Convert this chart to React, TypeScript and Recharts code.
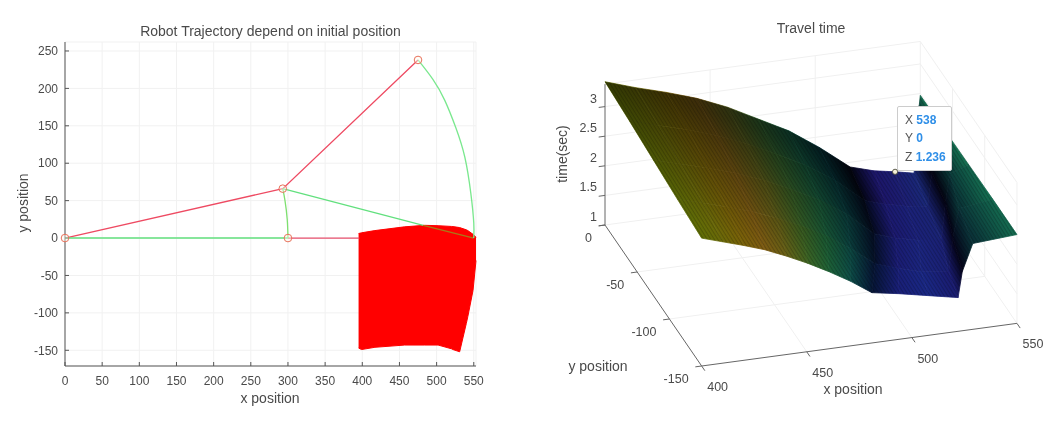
import React from 'react'
import { ComposedChart, Area, Line, Scatter, XAxis, YAxis, CartesianGrid } from 'recharts'

// left panel: robot arm poses and trajectory
const armOut = [{ x: 0, y: 0 }, { x: 293, y: 66 }, { x: 475, y: 238 }]
const armHome = [{ x: 300, y: 0 }, { x: 396, y: 0 }]
const armFlat = [{ x: 0, y: 0 }, { x: 300, y: 0 }]
const elbowArc = [{ x: 300, y: 0 }, { x: 299, y: 25 }, { x: 296, y: 50 }, { x: 293, y: 66 }]
const armReach = [{ x: 293, y: 66 }, { x: 482, y: 17 }]
const armReachOver = [{ x: 482, y: 17 }, { x: 550, y: 0 }]
const wristArc = [
  { x: 475, y: 238 }, { x: 495, y: 212 }, { x: 511, y: 184 }, { x: 526, y: 147 },
  { x: 538, y: 108 }, { x: 546, y: 60 }, { x: 550, y: 20 }, { x: 550, y: 0 },
]
const joints = [{ x: 0, y: 0 }, { x: 293, y: 66 }, { x: 475, y: 238 }, { x: 300, y: 0 }]
const workX = [395, 399, 417, 457, 484, 502, 520, 522, 531, 540, 542, 549, 553]
const workLow = [-147, -149, -146, -143, -143, -143, -148, -149, -152, -114, -105, -70, -30]
const workHigh = [6, 7, 10, 15, 17, 16.5, 15.5, 15.3, 14, 11, 10, 5, 1]
const leftXTicks = [0, 50, 100, 150, 200, 250, 300, 350, 400, 450, 500, 550]
const leftYTicks = [-150, -100, -50, 0, 50, 100, 150, 200, 250]

// right panel: travel time surface, one row per y position
const surfaceY = [0, -37.5, -75, -112.5, -150]
const surfaceX = [
  [400, 414.6, 429.2, 443.7, 458.3, 472.9, 487.5, 502, 516.6, 528, 538, 547, 549, 549.5, 550],
  [400, 414, 428, 442, 456, 470, 484, 498, 512, 522, 532, 542, 544, 546, 550],
  [400, 413, 426, 439, 452.5, 465.6, 478.8, 491.9, 505, 515, 526, 537, 539, 541, 550],
  [400, 412, 423.5, 435, 447, 458.8, 470.5, 482.3, 494, 505, 516, 529, 531, 534, 550],
  [400, 410, 420, 430, 440.5, 450.6, 460.7, 470.9, 481, 494, 508, 522, 524, 529, 550],
]
const surfaceTime = [
  [3.42, 3.25, 3.1, 2.93, 2.71, 2.44, 2.17, 1.82, 1.42, 1.3, 1.236, 1.17, 1.7, 2.3, 2.47],
  [3.36, 3.21, 3.07, 2.9, 2.7, 2.46, 2.2, 1.88, 1.47, 1.36, 1.28, 1.22, 1.8, 2.35, 2.48],
  [3.29, 3.16, 3.03, 2.88, 2.7, 2.48, 2.24, 1.94, 1.54, 1.42, 1.33, 1.28, 1.9, 2.38, 2.49],
  [3.22, 3.1, 2.98, 2.85, 2.68, 2.49, 2.27, 2.0, 1.68, 1.55, 1.44, 1.38, 1.95, 2.42, 2.5],
  [3.16, 3.05, 2.94, 2.82, 2.66, 2.49, 2.3, 2.09, 1.85, 1.77, 1.67, 1.57, 2.0, 2.45, 2.5],
]
// knot colours along the far (y=0) and near (y=-150) edges of the surface
const farColors = [
  '#5f6e06', '#6c6a08', '#7a6208', '#7a5c14', '#5a6420', '#346a34', '#155f48', '#05343c',
  '#02020f', '#1c1468', '#1c1c70', '#1a2a7a', '#02020c', '#0a4038', '#157050',
]
const nearColors = [
  '#5f6e06', '#6c6a08', '#7a6208', '#805c12', '#6a6014', '#3f6420', '#1e6234', '#0e5048',
  '#06183c', '#18207a', '#1a2a88', '#1a1a70', '#04041c', '#0a3038', '#146a50',
]
const darkSheetKnots = 8
const zTicks = [1, 1.5, 2, 2.5, 3]
const xTicks3d = [400, 450, 500, 550]
const yTicks3d = [0, -50, -100, -150]
const zMax = 3.38
const dataTip = { x: 538, y: 0, z: 1.236 }

const font = '"Liberation Sans", Arial, sans-serif'
const inkText = '#4a4a4a'
const offsetU = 530

// MATLAB view of the right axes, orthographic
const project = (x: number, y: number, z: number) => ({
  u: 605 + (x - 400) * 2.102 - y * 0.6443,
  v: 225 - (x - 400) * 0.2843 - y * 0.94 - (z - 1) * 59.2,
})

const seg = (a: number[], b: number[]) => [project(a[0], a[1], a[2]), project(b[0], b[1], b[2])]

type Pt = { u: number; v: number }

// a mesh cell as a range area: upper and lower edge at each corner's u
const cellBand = (corners: Pt[]) => {
  const us = Array.from(new Set(corners.map((c) => c.u))).sort((a, b) => a - b)
  return us.map((u) => {
    const hits: number[] = []
    corners.forEach((c, i) => {
      const d = corners[(i + 1) % corners.length]
      const lo = Math.min(c.u, d.u)
      const hi = Math.max(c.u, d.u)
      if (u < lo || u > hi) return
      if (c.u === d.u) hits.push(c.v, d.v)
      else hits.push(c.v + ((u - c.u) / (d.u - c.u)) * (d.v - c.v))
    })
    return { u, band: [Math.min(...hits), Math.max(...hits)] }
  })
}

const mixColor = (a: string, b: string, t: number) => {
  const ch = (s: string, i: number) => parseInt(s.slice(1 + i * 2, 3 + i * 2), 16)
  const out = [0, 1, 2].map((i) => Math.round(ch(a, i) + (ch(b, i) - ch(a, i)) * t))
  return `rgb(${out.join(',')})`
}

const workArea = workX.map((x, i) => ({ x, band: [workLow[i], workHigh[i]] }))

type Cell = {
  id: string
  knot: number
  data: { u: number; band: number[] }[]
  from: string
  to: string
  x1: number
  y1: number
  x2: number
  y2: number
}

const cells: Cell[] = []
surfaceY.slice(0, -1).forEach((y, r) => {
  const t = (r + 0.5) / (surfaceY.length - 1)
  for (let k = farColors.length - 2; k >= 0; k--) {
    const a = project(surfaceX[r][k], y, surfaceTime[r][k])
    const b = project(surfaceX[r][k + 1], y, surfaceTime[r][k + 1])
    const c = project(surfaceX[r + 1][k + 1], surfaceY[r + 1], surfaceTime[r + 1][k + 1])
    const d = project(surfaceX[r + 1][k], surfaceY[r + 1], surfaceTime[r + 1][k])
    // shade across the strip, square to its long edges
    const lx = (a.u + d.u) / 2
    const ly = (a.v + d.v) / 2
    const rx = (b.u + c.u) / 2
    const ry = (b.v + c.v) / 2
    let dx = d.u - a.u + c.u - b.u
    let dy = d.v - a.v + c.v - b.v
    const len = Math.hypot(dx, dy) || 1
    dx /= len
    dy /= len
    const along = (rx - lx) * -dy + (ry - ly) * dx
    cells.push({
      id: `cell-${r}-${k}`,
      knot: k,
      data: cellBand([a, b, c, d]),
      from: mixColor(farColors[k], nearColors[k], t),
      to: mixColor(farColors[k + 1], nearColors[k + 1], t),
      x1: lx - offsetU,
      y1: ly,
      x2: lx - offsetU + along * -dy,
      y2: ly + along * dx,
    })
  }
})

const box = (x: number, y: number, z: number) => project(x, y, z)
const gridSegs = [
  [box(400, 0, zMax), box(550, 0, zMax)],
  [box(550, 0, zMax), box(550, -150, zMax)],
  [box(550, -150, 1), box(550, -150, zMax)],
  [box(550, 0, 1), box(550, 0, zMax)],
  [box(550, 0, 1), box(550, -150, 1)],
  [box(400, 0, 1), box(550, 0, 1)],
  ...[450, 500].flatMap((x) => [
    [box(x, 0, 1), box(x, 0, zMax)],
    [box(x, 0, 1), box(x, -150, 1)],
  ]),
  ...[-50, -100].flatMap((y) => [
    [box(400, y, 1), box(550, y, 1)],
    [box(550, y, 1), box(550, y, zMax)],
  ]),
  ...[1.5, 2, 2.5, 3].flatMap((z) => [
    [box(400, 0, z), box(550, 0, z)],
    [box(550, 0, z), box(550, -150, z)],
  ]),
]
const axisSegs = [
  seg([400, 0, 1], [400, 0, zMax]),
  seg([400, 0, 1], [400, -150, 1]),
  seg([400, -150, 1], [550, -150, 1]),
  ...xTicks3d.map((x) => seg([x, -150, 1], [x, -155, 1])),
  ...yTicks3d.map((y) => seg([400, y, 1], [397, y, 1])),
  ...zTicks.map((z) => seg([400, 0, z], [397, 0, z])),
]

const tickTexts = [
  ...xTicks3d.map((x) => {
    const p = project(x, -150, 1)
    return { u: p.u + 16, v: p.v + 25, text: String(x), anchor: 'middle' }
  }),
  ...yTicks3d.map((y) => {
    const p = project(400, y, 1)
    return { u: p.u - 13, v: p.v + 17, text: String(y), anchor: 'end' }
  }),
  ...zTicks.map((z) => {
    const p = project(400, 0, z)
    return { u: p.u - 8, v: p.v - 4, text: String(z), anchor: 'end' }
  }),
]

const TickText = (props: any) => (
  <text x={props.cx} y={props.cy} textAnchor={props.payload.anchor} fontSize={12.5} fontFamily={font} fill={inkText}>
    {props.payload.text}
  </text>
)

const JointDot = (props: any) => (
  <circle cx={props.cx} cy={props.cy} r={3.8} fill="#fffdf0" fillOpacity={0.4} stroke="#e8705a" strokeWidth={1} />
)

const TipDot = (props: any) => (
  <circle cx={props.cx} cy={props.cy} r={2.6} fill="#f5efd8" stroke="#3a3a2a" strokeWidth={0.8} />
)

const caption = (text: string, left: number, top: number, rotate = 0) => (
  <div
    style={{
      position: 'absolute', left, top, transform: `translate(-50%, -50%) rotate(${rotate}deg)`,
      font: `14px ${font}`, color: inkText, whiteSpace: 'nowrap',
    }}
  >
    {text}
  </div>
)

const tipRow = (name: string, value: string) => (
  <div style={{ height: 18.4, lineHeight: '18.4px', whiteSpace: 'nowrap' }}>
    <span style={{ color: '#555' }}>{name}</span>{' '}
    <span style={{ color: '#2f8fe8', fontWeight: 700 }}>{value}</span>
  </div>
)

const panelMargin = { top: 0, right: 0, bottom: 0, left: 0 }
const layer = (left: number): React.CSSProperties => ({ position: 'absolute', left, top: 0 })

const App: React.FC = () => {
  return (
    <div style={{ position: 'absolute', left: 0, top: 0, width: 1064, height: 421, background: '#fff', overflow: 'hidden', filter: 'blur(0.4px)' }}>
      <div style={layer(0)}>
        <ComposedChart width={520} height={421} margin={{ top: 42, right: 44, bottom: 5, left: 15 }}>
          <CartesianGrid stroke="#f1f1f1" strokeWidth={1} />
          <XAxis
            type="number" dataKey="x" domain={[0, 550]} ticks={leftXTicks} interval={0} height={50}
            tickSize={-4} tickMargin={14} stroke="#555" tick={{ fontSize: 12, fontFamily: font, fill: inkText }}
          />
          <YAxis
            type="number" domain={[-171, 262]} ticks={leftYTicks} interval={0} width={50}
            tickSize={-4} tickMargin={11} stroke="#555" tick={{ fontSize: 12, fontFamily: font, fill: inkText }}
          />
          <Area data={workArea} dataKey="band" fill="#ff0000" fillOpacity={1} stroke="#ff0000" strokeWidth={1} dot={false} activeDot={false} isAnimationActive={false} />
          <Line data={armOut} dataKey="y" stroke="#ee4a62" strokeWidth={1.3} dot={false} activeDot={false} isAnimationActive={false} />
          <Line data={armHome} dataKey="y" stroke="#e8506e" strokeWidth={1.3} dot={false} activeDot={false} isAnimationActive={false} />
          <Line data={armFlat} dataKey="y" stroke="#62e07e" strokeWidth={1.6} dot={false} activeDot={false} isAnimationActive={false} />
          <Line data={elbowArc} dataKey="y" type="natural" stroke="#7ee070" strokeWidth={1.3} dot={false} activeDot={false} isAnimationActive={false} />
          <Line data={armReach} dataKey="y" stroke="#62e07e" strokeWidth={1.3} dot={false} activeDot={false} isAnimationActive={false} />
          <Line data={armReachOver} dataKey="y" stroke="#a87a18" strokeWidth={1.3} dot={false} activeDot={false} isAnimationActive={false} />
          <Line data={wristArc} dataKey="y" type="natural" stroke="#7ae88e" strokeWidth={1.3} dot={false} activeDot={false} isAnimationActive={false} />
          <Scatter data={joints} dataKey="y" shape={JointDot} isAnimationActive={false} />
        </ComposedChart>
      </div>

      {/* axes box sits under the surface */}
      <div style={layer(offsetU)}>
        <ComposedChart width={534} height={421} margin={panelMargin}>
          <XAxis hide type="number" dataKey="u" domain={[offsetU, 1064]} />
          <YAxis hide type="number" domain={[0, 421]} reversed />
          {gridSegs.map((s, i) => (
            <Line key={`g${i}`} data={s} dataKey="v" stroke="#f0f0f0" strokeWidth={1} dot={false} activeDot={false} isAnimationActive={false} />
          ))}
          {axisSegs.map((s, i) => (
            <Line key={`a${i}`} data={s} dataKey="v" stroke="#666" strokeWidth={1} dot={false} activeDot={false} isAnimationActive={false} />
          ))}
          <Scatter data={tickTexts} dataKey="v" shape={TickText} isAnimationActive={false} />
        </ComposedChart>
      </div>

      <div style={layer(offsetU)}>
        <ComposedChart width={534} height={421} margin={panelMargin}>
          <defs>
            <pattern id="meshHatch" width="3" height="3" patternUnits="userSpaceOnUse" patternTransform="rotate(58)">
              <rect width="3" height="1.1" fill="#000" fillOpacity="0.2" />
            </pattern>
            {/* the left sheet gets darker toward its far edge */}
            <linearGradient id="farShade" gradientUnits="userSpaceOnUse" x1={170} y1={108} x2={130} y2={223}>
              <stop offset="0" stopColor="#000" stopOpacity={0.5} />
              <stop offset="0.9" stopColor="#000" stopOpacity={0} />
            </linearGradient>
            {cells.map((c) => (
              <linearGradient key={c.id} id={c.id} gradientUnits="userSpaceOnUse" x1={c.x1} y1={c.y1} x2={c.x2} y2={c.y2}>
                <stop offset="0" stopColor={c.from} />
                <stop offset="1" stopColor={c.to} />
              </linearGradient>
            ))}
          </defs>
          <XAxis hide type="number" dataKey="u" domain={[offsetU, 1064]} />
          <YAxis hide type="number" domain={[0, 421]} reversed />
          {cells.map((c) => (
            <Area key={c.id} data={c.data} dataKey="band" fill={`url(#${c.id})`} fillOpacity={1} stroke={`url(#${c.id})`} strokeWidth={0.8} dot={false} activeDot={false} isAnimationActive={false} />
          ))}
          {cells.filter((c) => c.knot < darkSheetKnots).map((c) => (
            <Area key={`s${c.id}`} data={c.data} dataKey="band" fill="url(#farShade)" fillOpacity={1} stroke="none" dot={false} activeDot={false} isAnimationActive={false} />
          ))}
          {cells.map((c) => (
            <Area key={`h${c.id}`} data={c.data} dataKey="band" fill="url(#meshHatch)" fillOpacity={1} stroke="none" dot={false} activeDot={false} isAnimationActive={false} />
          ))}
        </ComposedChart>
      </div>

      <div
        style={{
          position: 'absolute', left: 897, top: 106, width: 55, height: 65, padding: '4px 0 0 7px', boxSizing: 'border-box',
          background: '#fff', border: '1px solid #ccc', borderRadius: 2, font: `12px ${font}`,
        }}
      >
        {tipRow('X', String(dataTip.x))}
        {tipRow('Y', String(dataTip.y))}
        {tipRow('Z', String(dataTip.z))}
      </div>
      <div style={layer(offsetU)}>
        <ComposedChart width={534} height={421} margin={panelMargin}>
          <XAxis hide type="number" dataKey="u" domain={[offsetU, 1064]} />
          <YAxis hide type="number" domain={[0, 421]} reversed />
          <Scatter data={[project(dataTip.x, dataTip.y, dataTip.z)]} dataKey="v" shape={TipDot} isAnimationActive={false} />
        </ComposedChart>
      </div>

      {caption('Robot Trajectory depend on initial position', 270.5, 31)}
      {caption('x position', 270, 398)}
      {caption('y position', 23, 203, -90)}
      {caption('Travel time', 811, 28)}
      {caption('time(sec)', 562, 154, -90)}
      {caption('y position', 598, 366)}
      {caption('x position', 853, 389)}
    </div>
  )
}

export default App
